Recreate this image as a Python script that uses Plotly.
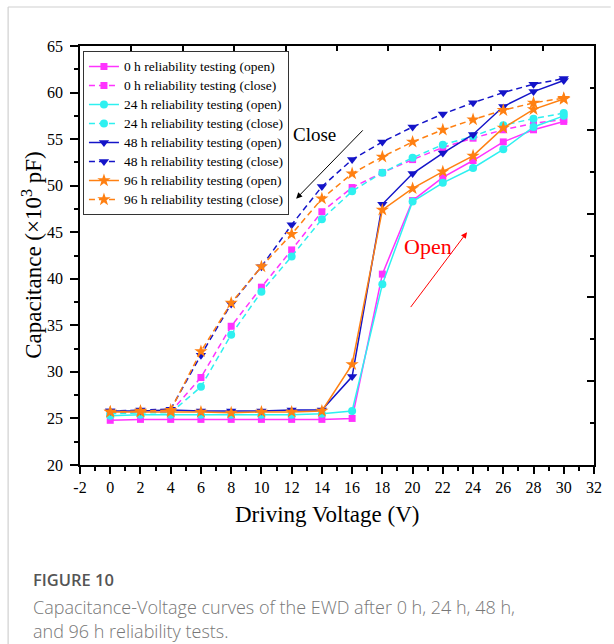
import plotly.graph_objects as go

# Driving voltage sweep (V)
voltage = [0, 2, 4, 6, 8, 10, 12, 14, 16, 18, 20, 22, 24, 26, 28, 30]

# Capacitance (x10^3 pF) for each reliability-test duration, opening and closing sweeps
open_0h = [24.8, 24.9, 24.9, 24.9, 24.9, 24.9, 24.9, 24.9, 25.0, 40.5, 48.4, 50.9, 52.7, 54.7, 56.0, 56.9]
close_0h = [25.6, 25.7, 25.7, 29.4, 34.9, 39.1, 43.1, 47.2, 49.8, 51.4, 52.8, 54.1, 55.1, 56.0, 56.7, 57.1]
open_24h = [25.3, 25.4, 25.4, 25.4, 25.4, 25.4, 25.4, 25.5, 25.8, 39.4, 48.3, 50.3, 51.9, 53.9, 56.3, 57.5]
close_24h = [25.5, 25.6, 25.6, 28.4, 34.0, 38.6, 42.4, 46.4, 49.4, 51.4, 53.0, 54.4, 55.3, 56.5, 57.2, 57.8]
open_48h = [25.8, 25.8, 25.9, 25.8, 25.8, 25.8, 25.9, 25.9, 29.5, 48.0, 51.3, 53.5, 55.5, 58.5, 60.1, 61.3]
close_48h = [25.8, 25.9, 26.0, 31.8, 37.3, 41.3, 45.8, 49.9, 52.8, 54.7, 56.3, 57.7, 58.9, 60.0, 60.9, 61.5]
open_96h = [25.7, 25.7, 25.7, 25.7, 25.6, 25.7, 25.7, 25.8, 30.8, 47.4, 49.7, 51.5, 53.2, 56.2, 58.2, 59.3]
close_96h = [25.7, 25.8, 25.9, 32.2, 37.4, 41.3, 44.8, 48.6, 51.3, 53.1, 54.7, 56.0, 57.1, 58.1, 58.9, 59.4]

# Bottom-axis tick labels (plain hyphen for the negative value)
x_tick_values = [-2, 0, 2, 4, 6, 8, 10, 12, 14, 16, 18, 20, 22, 24, 26, 28, 30, 32]
x_tick_labels = ["-2", "0", "2", "4", "6", "8", "10", "12", "14", "16",
                 "18", "20", "22", "24", "26", "28", "30", "32"]

series = [
    ("0 h reliability testing (open)", open_0h, "#FF33FF", "square", 7, "solid"),
    ("0 h reliability testing (close)", close_0h, "#FF33FF", "square", 7, "6px,4px"),
    ("24 h reliability testing (open)", open_24h, "#2EF0F0", "circle", 8, "solid"),
    ("24 h reliability testing (close)", close_24h, "#2EF0F0", "circle", 8, "6px,4px"),
    ("48 h reliability testing (open)", open_48h, "#1414C8", "triangle-down", 9, "solid"),
    ("48 h reliability testing (close)", close_48h, "#1414C8", "triangle-down", 9, "6px,4px"),
    ("96 h reliability testing (open)", open_96h, "#FF8012", "star", 10, "solid"),
    ("96 h reliability testing (close)", close_96h, "#FF8012", "star", 10, "6px,4px"),
]

SERIF = "Liberation Serif, Times New Roman, serif"
SANS = "Open Sans, Noto Sans, sans-serif"

fig = go.Figure()
for name, vals, color, symbol, size, dash in series:
    fig.add_trace(go.Scatter(
        x=voltage, y=vals, mode="lines+markers",
        name='<span style="font-size:13.5px">' + name + "</span>",
        line=dict(color=color, width=1.5, dash=dash),
        marker=dict(color=color, symbol=symbol, size=size, line=dict(width=0)),
    ))

# Empty trace so the mirrored top/right axes get drawn
fig.add_trace(go.Scatter(x=[], y=[], xaxis="x2", yaxis="y2",
                         showlegend=False, hoverinfo="skip"))

X_RANGE = [-2, 32]
Y_RANGE = [20, 65]

# Plot-area geometry in pixels (for placing page decorations)
W, H = 614, 644
ML, MR, MT, MB = 80, 12, 46, 179
PW, PH = W - ML - MR, H - MT - MB


def px(x):
    return (x - ML) / PW


def py(y):
    return (H - MB - y) / PH


fig.update_layout(
    width=W, height=H,
    margin=dict(l=ML, r=MR, t=MT, b=MB, pad=0),
    paper_bgcolor="white", plot_bgcolor="white",
    font=dict(family=SERIF, color="black", size=16),
    showlegend=True,
    legend=dict(
        x=px(83), y=py(51), xanchor="left", yanchor="top",
        bgcolor="white", bordercolor="#333333", borderwidth=1,
        font=dict(family=SERIF, size=12, color="black"),
        traceorder="normal", itemwidth=30, tracegroupgap=0,
    ),
    xaxis=dict(
        range=X_RANGE, tickmode="array", tickvals=x_tick_values, ticktext=x_tick_labels,
        ticks="outside", ticklen=7, tickwidth=1.5, tickcolor="black",
        minor=dict(dtick=1, tick0=0, ticks="outside", ticklen=4, tickwidth=1.5, tickcolor="black"),
        showline=True, linecolor="black", linewidth=1.5,
        showgrid=False, zeroline=False,
        tickfont=dict(family=SERIF, size=16, color="black"),
    ),
    yaxis=dict(
        range=Y_RANGE, tickmode="linear", tick0=20, dtick=5,
        ticks="outside", ticklen=8, tickwidth=1.5, tickcolor="black",
        minor=dict(dtick=2.5, tick0=20, ticks="outside", ticklen=4, tickwidth=1.5, tickcolor="black"),
        showline=True, linecolor="black", linewidth=1.5,
        showgrid=False, zeroline=False, ticklabelstandoff=4,
        tickfont=dict(family=SERIF, size=16, color="black"),
    ),
    xaxis2=dict(
        overlaying="x", side="top", range=X_RANGE,
        tickmode="linear", tick0=-2, dtick=3.4,
        ticks="inside", ticklen=5, tickwidth=1.5, tickcolor="black",
        showticklabels=False, showline=True, linecolor="black", linewidth=1.5,
        showgrid=False, zeroline=False,
    ),
    yaxis2=dict(
        overlaying="y", side="right", range=Y_RANGE,
        tickmode="linear", tick0=20, dtick=9,
        ticks="inside", ticklen=7, tickwidth=1.5, tickcolor="black",
        minor=dict(dtick=4.5, tick0=20, ticks="inside", ticklen=4, tickwidth=1.5, tickcolor="black"),
        showticklabels=False, showline=True, linecolor="black", linewidth=1.5,
        showgrid=False, zeroline=False,
    ),
)

annotations = [
    # Axis titles
    dict(text="Driving Voltage (V)", xref="paper", yref="paper",
         x=px(331), y=py(514), xanchor="center", yanchor="middle",
         showarrow=False, font=dict(family=SERIF, size=23, color="black")),
    dict(text="Capacitance (×10<sup>3</sup> pF)", xref="paper", yref="paper",
         x=px(31), y=py(255), xanchor="center", yanchor="middle", textangle=-90,
         showarrow=False, font=dict(family=SERIF, size=23, color="black")),
    # Sweep-direction labels and arrows
    dict(text="Close", x=13.5, y=55.5, xref="x", yref="y", showarrow=False,
         font=dict(family=SERIF, size=19, color="black")),
    dict(text="", x=12.3, y=48.6, ax=16.8, ay=56.1, xref="x", yref="y",
         axref="x", ayref="y", showarrow=True, arrowhead=2, arrowsize=1.2,
         arrowwidth=1, arrowcolor="black"),
    dict(text="Open", x=21.0, y=43.5, xref="x", yref="y", showarrow=False,
         font=dict(family=SERIF, size=22, color="#FF0000")),
    dict(text="", x=23.6, y=45.0, ax=19.8, ay=36.8, xref="x", yref="y",
         axref="x", ayref="y", showarrow=True, arrowhead=2, arrowsize=1.2,
         arrowwidth=1, arrowcolor="#FF0000"),
    # Figure caption
    dict(text="FIGURE 10", xref="paper", yref="paper", x=px(30), y=py(579),
         xanchor="left", yanchor="middle", showarrow=False,
         font=dict(family="Open Sans, sans-serif", size=16.5, color="#555555", weight=600)),
    dict(text="Capacitance-Voltage curves of the EWD after 0 h, 24 h, 48 h,", xref="paper", yref="paper",
         x=px(30), y=py(607), xanchor="left", yanchor="middle", showarrow=False,
         font=dict(family=SANS, size=18, color="#777777", weight=300)),
    dict(text="and 96 h reliability tests.", xref="paper", yref="paper",
         x=px(30), y=py(631), xanchor="left", yanchor="middle", showarrow=False,
         font=dict(family=SANS, size=18, color="#777777", weight=300)),
]
fig.update_layout(annotations=annotations)

# Card border along the top and left of the page
fig.update_layout(shapes=[
    dict(type="line", xref="paper", yref="paper", x0=px(7), x1=px(W + 5), y0=py(7), y1=py(7),
         line=dict(color="#D0D0D0", width=1.2)),
    dict(type="line", xref="paper", yref="paper", x0=px(7), x1=px(7), y0=py(7), y1=py(H + 5),
         line=dict(color="#D0D0D0", width=1.2)),
])

fig.write_html("out.html")
